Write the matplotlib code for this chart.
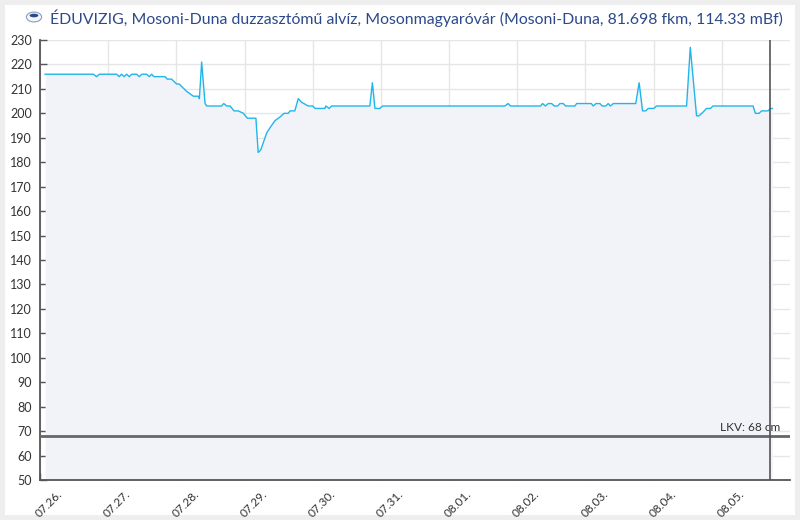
import matplotlib.pyplot as plt
from matplotlib.patches import Circle, Ellipse, FancyBboxPatch
from matplotlib.transforms import blended_transform_factory, ScaledTranslation

# hours since 07.26. 00:00 and water level (cm)
hours = [1.8, 18.8, 19.9, 20.9, 27.0, 27.9, 28.7, 29.6, 30.5, 31.4, 32.3, 34.0,
         35.0, 35.8, 37.5, 38.5, 39.3, 40.1, 44.0, 44.8, 46.3, 48.1, 49.0, 51.6,
         54.0, 55.7, 56.1, 56.9, 58.1, 58.7, 63.9, 64.7, 65.7, 66.9, 68.3, 69.8,
         71.6, 73.0, 76.0, 76.8, 77.7, 78.6, 79.8, 80.9, 82.7, 84.5, 85.9, 87.4,
         88.0, 89.7, 90.9, 92.1, 92.9, 94.4, 96.0, 96.8, 100.3, 100.6, 101.8, 102.6,
         116.1, 117.0, 117.9, 119.6, 120.6, 163.6, 164.8, 165.6, 176.2, 176.9, 177.9,
         178.9, 180.1, 181.0, 182.2, 183.0, 184.2, 185.0, 188.3, 188.9, 194.1, 194.7,
         195.7, 197.1, 197.9, 199.2, 200.0, 200.8, 201.8, 209.7, 210.9, 212.1, 213.2,
         214.1, 216.1, 217.0, 227.6, 228.9, 231.1, 232.0, 233.4, 234.6, 236.0, 236.9,
         251.0, 251.8, 253.1, 254.0, 256.3, 257.1, 257.8]
levels = [216, 216, 215, 216, 216, 215, 216, 215, 216, 215, 216, 216,
          215, 216, 216, 215, 216, 215, 215, 214, 214, 212, 212, 209,
          207, 207, 206, 221, 204, 203, 203, 204, 203, 203, 201, 201,
          200, 198, 198, 184, 185, 188, 192, 194, 197, 198.5, 200, 200,
          201, 201, 206, 204.5, 204, 203, 203, 202, 202, 203, 202, 203,
          203, 212.5, 202, 202, 203, 203, 204, 203, 203, 204, 203,
          204, 204, 203, 203, 204, 204, 203, 203, 204, 204, 203,
          204, 204, 203, 203, 204, 203, 204, 204, 212.5, 201, 201,
          202, 202, 203, 203, 227, 199, 199, 200.5, 202, 202, 203,
          203, 200, 200, 201, 201, 202, 202]

day_ticks = [0, 24, 48, 72, 96, 120, 144, 168, 192, 216, 240]
day_labels = ['07.26.', '07.27.', '07.28.', '07.29.', '07.30.', '07.31.',
              '08.01.', '08.02.', '08.03.', '08.04.', '08.05.']
now_hour = 256.9
lkv = 68

title = ('ÉDUVIZIG, Mosoni-Duna duzzasztómű alvíz, Mosonmagyaróvár '
         '(Mosoni-Duna, 81.698 fkm, 114.33 mBf)')

plt.rcParams['font.family'] = ['Lato', 'DejaVu Sans']

fig = plt.figure(figsize=(8, 5.2), dpi=100)
fig.patch.set_facecolor('#eeeeee')
card = FancyBboxPatch((5 / 800, 5 / 520), 790 / 800, 510 / 520,
                      boxstyle='square,pad=0', transform=fig.transFigure,
                      facecolor='white', edgecolor='none', zorder=-10)
fig.patches.append(card)

ax = fig.add_axes([40 / 800, 40 / 520, 750 / 800, 440 / 520])
ax.set_facecolor('white')

ax.fill_between(hours, levels, 50, color='#f2f3f8', lw=0, zorder=1)
ax.plot(hours, levels, color='#1fb6ea', lw=1, zorder=3)

ax.axhline(lkv, color='#666666', lw=2, zorder=4)
tr = blended_transform_factory(ax.transAxes, ax.transData)
ax.text(0.987, lkv + 1.3, f'LKV: {lkv} cm', transform=tr, ha='right',
        va='bottom', fontsize=8.6, color='#333333', zorder=5)
ax.axvline(now_hour, color='#555555', lw=1.2, zorder=5)

ax.set_xlim(0, 264)
ax.set_ylim(50, 230)
ax.set_yticks(range(50, 231, 10))
ax.set_xticks(day_ticks)
ax.set_xticklabels([])

# rotated day labels, drawn by hand so they can sit a bit right of the tick
xtr = blended_transform_factory(ax.transData, ax.transAxes) + \
    ScaledTranslation(9 / 100, -8 / 100, fig.dpi_scale_trans)
for t, lab in zip(day_ticks, day_labels):
    ax.text(t, 0, lab, transform=xtr, rotation=45, ha='center', va='top',
            fontsize=8.5, color='#333333', clip_on=False)

ax.grid(True, color='#e6e6e6', lw=1, zorder=0)
ax.set_axisbelow(True)

for s in ['top', 'right']:
    ax.spines[s].set_visible(False)
for s in ['left', 'bottom']:
    ax.spines[s].set_color('#555555')
    ax.spines[s].set_linewidth(1.3)
ax.tick_params(axis='both', direction='in', length=5, width=1, color='#555555',
               labelsize=9, labelcolor='#333333')
ax.tick_params(axis='y', pad=6)

# logo + title
fig.patches.append(Circle((34 / 800, 1 - 17 / 520), 0.0095, transform=fig.transFigure,
                          facecolor='#f4f6fa', edgecolor='#8a9cc4', lw=0.8))
fig.patches.append(Ellipse((34 / 800, 1 - 15.5 / 520), 0.011, 0.007, transform=fig.transFigure,
                           facecolor='#2c4a8a', edgecolor='none'))
fig.text(50 / 800, 1 - 18 / 520, title, fontsize=11.4, color='#2c4a8a',
         ha='left', va='center')

fig.savefig('out.png', dpi=100, facecolor=fig.get_facecolor())
